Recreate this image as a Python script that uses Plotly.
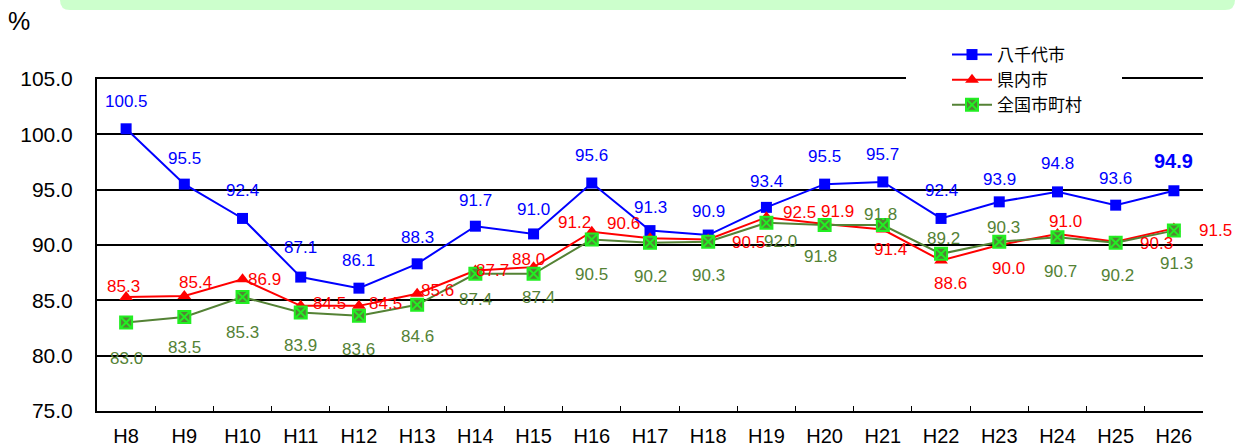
import plotly.graph_objects as go

# data
years = ["H8", "H9", "H10", "H11", "H12", "H13", "H14", "H15", "H16", "H17",
         "H18", "H19", "H20", "H21", "H22", "H23", "H24", "H25", "H26"]
yachiyo = [100.5, 95.5, 92.4, 87.1, 86.1, 88.3, 91.7, 91.0, 95.6, 91.3,
           90.9, 93.4, 95.5, 95.7, 92.4, 93.9, 94.8, 93.6, 94.9]
kennai = [85.3, 85.4, 86.9, 84.5, 84.5, 85.6, 87.7, 88.0, 91.2, 90.6,
          90.5, 92.5, 91.9, 91.4, 88.6, 90.0, 91.0, 90.3, 91.5]
zenkoku = [83.0, 83.5, 85.3, 83.9, 83.6, 84.6, 87.4, 87.4, 90.5, 90.2,
           90.3, 92.0, 91.8, 91.8, 89.2, 90.3, 90.7, 90.2, 91.3]

BLUE = "#0000ff"
RED = "#ff0000"
GREEN = "#548235"
FONT = "Liberation Sans, Arial, sans-serif"
NARROW = "Liberation Sans Narrow, Arial Narrow, Liberation Sans, sans-serif"
CJK = "Noto Sans CJK JP, sans-serif"

# label offsets in pixels (dx right, dy down), hand placed like the original
blue_off = [(0, -27), (0, -26), (0, -28), (0, -30), (0, -28), (0, -26), (0, -26),
            (0, -24), (0, -28), (0, -23), (0, -24), (0, -26), (0, -28), (0, -27),
            (0, -28), (0, -22), (0, -28), (0, -27), (0, -30)]
red_off = [(-3, -11), (11, -13), (22, 0), (29, -2), (27, -2), (20, -3), (17, 0),
           (-5, -8), (-17, -9), (-27, -15), (40, 3), (33, -5), (13, -12), (8, 20),
           (9, 23), (9, 23), (8, -12), (41, 2), (42, 2)]
green_off = [(0, 36), (0, 31), (0, 35), (0, 33), (0, 34), (0, 32), (0, 26),
             (5, 24), (0, 35), (0, 34), (0, 34), (14, 19), (-4, 31), (-2, -11),
             (2, -15), (4, -14), (3, 34), (2, 33), (3, 33)]

W, H = 1244, 446
L, R, T, B = 97, 41, 79, 35

fig = go.Figure()
fig.add_trace(go.Scatter(
    x=years, y=yachiyo, name="八千代市", mode="lines+markers",
    line=dict(color=BLUE, width=2),
    marker=dict(symbol="square", size=11, color=BLUE)))
fig.add_trace(go.Scatter(
    x=years, y=kennai, name="県内市", mode="lines+markers",
    line=dict(color=RED, width=2),
    marker=dict(symbol="triangle-up", size=12, color=RED)))
fig.add_trace(go.Scatter(
    x=years, y=zenkoku, name="全国市町村", mode="lines+markers",
    line=dict(color=GREEN, width=2),
    marker=dict(symbol="square-x", size=12, color=GREEN,
                line=dict(color="#22ee22", width=2))))

annotations = []
for vals, offs, col in [(yachiyo, blue_off, BLUE), (kennai, red_off, RED),
                        (zenkoku, green_off, GREEN)]:
    for i, (yr, v) in enumerate(zip(years, vals)):
        dx, dy = offs[i]
        bold = col == BLUE and i == len(years) - 1
        annotations.append(dict(
            x=yr, y=v, text=f"<b>{v:.1f}</b>" if bold else f"{v:.1f}",
            showarrow=False, xshift=dx, yshift=-dy,
            font=dict(family=FONT, size=20 if bold else 17, color=col)))

pw, ph = W - L - R, H - T - B
def px(x): return (x - L) / pw
def py(y): return (H - B - y) / ph

annotations.append(dict(
    xref="paper", yref="paper", x=px(6), y=py(21),
    xanchor="left", yanchor="middle", text="%", showarrow=False,
    font=dict(family=FONT, size=25, color="black")))

# light green banner at the top, cut off by the page edge
x0, x1, y0, y1, r = 60, 1235, -20, 10, 10
banner = (f"M {px(x0)},{py(y0)} L {px(x0)},{py(y1 - r)} "
          f"Q {px(x0)},{py(y1)} {px(x0 + r)},{py(y1)} "
          f"L {px(x1 - r)},{py(y1)} Q {px(x1)},{py(y1)} {px(x1)},{py(y1 - r)} "
          f"L {px(x1)},{py(y0)} Z")

shapes = [
    dict(type="path", xref="paper", yref="paper", path=banner,
         fillcolor="#ccffcc", line=dict(width=0), layer="below"),
    # white legend box hides part of the top border
    dict(type="rect", xref="paper", yref="paper",
         x0=px(906), x1=px(1122), y0=py(84), y1=py(72),
         fillcolor="white", line=dict(width=0), layer="above"),
]

fig.update_layout(
    width=W, height=H,
    margin=dict(l=L, r=R, t=T, b=B, autoexpand=False),
    plot_bgcolor="white", paper_bgcolor="white",
    annotations=annotations,
    shapes=shapes,
    showlegend=True,
    legend=dict(x=px(947), y=py(37), xanchor="left", yanchor="top",
                bgcolor="white", borderwidth=0,
                font=dict(family=CJK, size=17, color="black"),
                tracegroupgap=0, itemwidth=40),
    xaxis=dict(type="category", range=[-0.5, len(years) - 0.5],
               showline=True, linecolor="black", linewidth=2,
               mirror=True, ticks="inside", ticklen=5, tickcolor="black",
               tickson="boundaries", showgrid=False, automargin=False,
               ticklabelstandoff=6,
               tickfont=dict(family=NARROW, size=20, color="black")),
    yaxis=dict(range=[75, 105], dtick=5, tickformat=".1f",
               showline=True, linecolor="black", linewidth=2,
               ticks="inside", ticklen=5, tickcolor="black",
               showgrid=True, gridcolor="black", gridwidth=2,
               zeroline=False, ticklabelstandoff=18, automargin=False,
               tickfont=dict(family=NARROW, size=21, color="black")),
)

fig.write_html("out.html", config={"displayModeBar": False},
               post_script="document.body.style.margin='0';")
